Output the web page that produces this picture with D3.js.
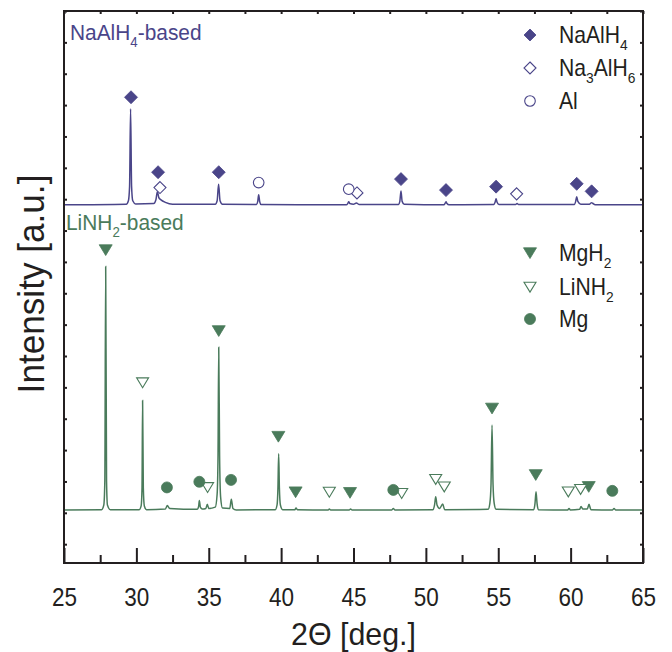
<!DOCTYPE html>
<html><head><meta charset="utf-8">
<script src="https://cdn.jsdelivr.net/npm/d3@7"></script>
<style>body{margin:0;background:#fff}svg{display:block}text{font-family:"Liberation Sans",Arial,sans-serif}</style>
</head><body><svg id="c" width="672" height="652"></svg>
<script>
// ---- data (2θ in degrees, intensity in arbitrary units) ----
const xMajorTicks = [25,30,35,40,45,50,55,60,65];
const xMinorTicks = [27.5,32.5,37.5,42.5,47.5,52.5,57.5,62.5];
const yTicks = [0,1,2,3,4,5,6,7,8,9,10,11,12,13,14,15,16,17];

const naalh4Trace = [[25,10.82],[29.3,10.84],[29.45,10.95],[29.53,11.4],[29.6,13.88],[29.67,11.4],[29.75,10.95],[29.95,10.85],
 [31.2,10.86],[31.35,10.98],[31.45,11.24],[31.55,11.05],[31.7,10.98],[32.0,10.9],[32.5,10.84],
 [35.45,10.84],[35.58,10.95],[35.68,11.48],[35.78,10.95],[35.95,10.84],
 [38.3,10.83],[38.38,10.92],[38.45,11.14],[38.52,10.92],[38.62,10.83],
 [44.5,10.82],[44.6,10.86],[44.67,10.92],[44.75,10.86],[45.0,10.84],[45.2,10.88],[45.4,10.83],
 [48.1,10.83],[48.2,10.93],[48.28,11.26],[48.36,10.93],[48.5,10.84],
 [51.25,10.82],[51.32,10.86],[51.39,10.92],[51.46,10.86],[51.6,10.82],
 [54.7,10.83],[54.78,10.9],[54.85,11.01],[54.92,10.9],[55.05,10.83],
 [56.2,10.83],[56.3,10.86],[56.4,10.83],
 [60.25,10.83],[60.35,10.93],[60.42,11.08],[60.5,10.93],[60.7,10.84],
 [61.3,10.84],[61.38,10.87],[61.45,10.89],[61.52,10.87],[61.7,10.82],[65,10.82]];

const linh2Trace = [[25,1.09],[27.6,1.1],[27.75,1.25],[27.82,2.0],[27.88,8.85],[27.94,2.0],[28.0,1.25],[28.2,1.1],
 [30.2,1.1],[30.33,1.22],[30.39,1.8],[30.43,4.58],[30.48,1.8],[30.55,1.22],[30.7,1.1],
 [32.0,1.12],[32.14,1.23],[32.3,1.14],[34.2,1.11],[34.3,1.2],[34.35,1.39],[34.42,1.18],[34.55,1.12],
 [34.8,1.14],[34.9,1.27],[35.0,1.14],[35.45,1.18],[35.58,1.6],[35.64,2.8],[35.69,6.28],[35.75,2.8],[35.82,1.5],[35.95,1.15],
 [36.45,1.14],[36.56,1.43],[36.67,1.14],[36.9,1.09],
 [39.6,1.1],[39.72,1.25],[39.78,1.8],[39.83,2.88],[39.88,1.8],[39.95,1.25],[40.1,1.1],
 [40.95,1.1],[41.03,1.15],[41.12,1.1],[43.25,1.09],[43.33,1.12],[43.42,1.09],[44.7,1.09],[44.8,1.12],[44.9,1.09],
 [47.65,1.09],[47.75,1.14],[47.85,1.09],
 [50.5,1.1],[50.6,1.25],[50.68,1.51],[50.77,1.25],[50.95,1.14],[51.16,1.28],[51.3,1.1],
 [54.3,1.11],[54.42,1.3],[54.5,1.9],[54.57,3.8],[54.64,1.9],[54.72,1.3],[54.85,1.11],
 [57.45,1.1],[57.54,1.3],[57.61,1.67],[57.68,1.3],[57.77,1.1],
 [59.8,1.09],[59.89,1.14],[59.98,1.09],[60.62,1.11],[60.72,1.2],[60.85,1.12],[61.15,1.12],[61.27,1.27],[61.4,1.1],
 [62.9,1.09],[63.0,1.14],[63.1,1.09],[65,1.09]];

const naalh4Marks = [[29.63,14.25],[31.5,11.86],[35.69,11.86],[48.28,11.64],[51.39,11.29],[54.85,11.40],[60.42,11.49],[61.45,11.25]];
const na3alh6Marks = [[31.63,11.37],[45.24,11.20],[56.27,11.17]];
const alMarks = [[38.45,11.53],[44.67,11.32]];
const mgh2Marks = [[27.88,9.38],[35.69,6.80],[39.81,3.43],[41.0,1.66],[44.76,1.64],[54.57,4.33],[57.59,2.21],[61.25,1.83]];
const linh2Marks = [[30.43,5.15],[34.92,1.81],[43.33,1.66],[48.33,1.62],[50.68,2.07],[51.27,1.83],[59.84,1.67],[60.69,1.75]];
const mgMarks = [[32.11,1.81],[34.35,1.99],[36.54,2.05],[47.75,1.73],[62.88,1.70]];

// ---- layout ----
const BLUE = "#4a4589", GREEN = "#4a7b5b", INK = "#231f20";
const L = 64, R = 643, T = 11, B = 563;
const svg = d3.select("#c");
const x = d3.scaleLinear().domain([25,65]).range([L,R]);
const y = d3.scaleLinear().domain([-0.6,17]).range([B,T]);

// traces
const line = d3.line().x(d=>x(d[0])).y(d=>y(d[1])).curve(d3.curveMonotoneX);
svg.append("path").datum(naalh4Trace).attr("d",line).attr("fill","none").attr("stroke",BLUE).attr("stroke-width",1.5);
svg.append("path").datum(linh2Trace).attr("d",line).attr("fill","none").attr("stroke",GREEN).attr("stroke-width",1.5);

// symbols
const sym = {
  diamond: (s)=>`M0,${-s}L${s},0L0,${s}L${-s},0Z`,
  tri: (s)=>`M${-s},${-s*0.8}L${s},${-s*0.8}L0,${s*0.85}Z`,
  circle: (s)=>`M${-s},0A${s},${s} 0 1,0 ${s},0A${s},${s} 0 1,0 ${-s},0Z`
};
function marks(data, shape, size, color, filled){
  svg.append("g").selectAll("path").data(data).join("path")
    .attr("transform",d=>`translate(${x(d[0])},${y(d[1])})`)
    .attr("d",sym[shape](size))
    .attr("fill",filled?color:"#fff").attr("stroke",color).attr("stroke-width",filled?0.8:1.1);
}
marks(naalh4Marks,"diamond",6.5,BLUE,true);
marks(na3alh6Marks,"diamond",6,BLUE,false);
marks(alMarks,"circle",5.3,BLUE,false);
marks(mgh2Marks,"tri",6.5,GREEN,true);
marks(linh2Marks,"tri",6,GREEN,false);
marks(mgMarks,"circle",5.5,GREEN,true);

// legends
function legendItem(ly, shape, size, color, filled, parts){
  svg.append("path").attr("transform",`translate(530,${ly})`).attr("d",sym[shape](size))
    .attr("fill",filled?color:"#fff").attr("stroke",color).attr("stroke-width",filled?0.8:1.1);
  const t = svg.append("text").attr("transform",`translate(559,${ly+8}) scale(0.92,1)`).attr("font-size",23).attr("fill",INK);
  let down = false;
  parts.forEach(p=>{
    const s = t.append("tspan").text(p[0]);
    if(down){ s.attr("dy",-7); down=false; }
    if(p[1]){ t.append("tspan").attr("font-size",15).attr("dy",7).text(p[1]); down=true; }
  });
}
legendItem(35,"diamond",6,BLUE,true,[["NaAlH","4"]]);
legendItem(68,"diamond",6,BLUE,false,[["Na","3"],["AlH","6"]]);
legendItem(101,"circle",5.3,BLUE,false,[["Al",""]]);
legendItem(253,"tri",6.5,GREEN,true,[["MgH","2"]]);
legendItem(287,"tri",6,GREEN,false,[["LiNH","2"]]);
legendItem(319,"circle",5.5,GREEN,true,[["Mg",""]]);

// panel labels
function label(lx, ly, color, a, s, b){
  const t = svg.append("text").attr("transform",`translate(${lx},${ly}) scale(0.95,1)`).attr("font-size",22).attr("fill",color);
  t.append("tspan").text(a);
  t.append("tspan").attr("font-size",14).attr("dy",7).text(s);
  t.append("tspan").attr("dy",-7).text(b);
}
label(70,40,BLUE,"NaAlH","4","-based");
label(66,230,GREEN,"LiNH","2","-based");

// axes
function styleAxis(g){ g.select(".domain").remove(); g.selectAll("line").attr("stroke",INK).attr("stroke-width",2); }
svg.append("g").attr("transform",`translate(0,${B})`)
  .call(d3.axisBottom(x).tickValues(xMajorTicks).tickSize(-15).tickPadding(25).tickFormat(d3.format("d")))
  .call(styleAxis)
  .call(g=>g.selectAll("text").attr("font-size",25).attr("fill",INK).attr("transform","scale(0.9,1)")
    .attr("font-family","Liberation Sans, Arial, sans-serif"));
svg.append("g").attr("transform",`translate(0,${B})`)
  .call(d3.axisBottom(x).tickValues(xMinorTicks).tickSize(-8).tickFormat(""))
  .call(styleAxis);
svg.append("g").attr("transform",`translate(0,${T})`)
  .call(d3.axisTop(x).tickValues(xMajorTicks.concat(xMinorTicks)).tickSize(-3).tickFormat(""))
  .call(styleAxis);
svg.append("g").attr("transform",`translate(${L},0)`)
  .call(d3.axisLeft(y).tickValues(yTicks).tickSize(-3).tickFormat(""))
  .call(styleAxis);
svg.append("g").attr("transform",`translate(${R},0)`)
  .call(d3.axisRight(y).tickValues(yTicks).tickSize(-3).tickFormat(""))
  .call(styleAxis);
svg.append("rect").attr("x",L).attr("y",T).attr("width",R-L).attr("height",B-T)
  .attr("fill","none").attr("stroke",INK).attr("stroke-width",2);

// titles
svg.append("text").attr("transform",`translate(${(L+R)/2},645) scale(0.95,1)`).attr("text-anchor","middle").attr("font-size",32).attr("fill",INK).text("2Θ [deg.]");
svg.append("text").attr("transform",`translate(44,284) rotate(-90) scale(0.95,1)`).attr("text-anchor","middle").attr("font-size",37).attr("fill",INK).text("Intensity [a.u.]");
</script></body></html>
